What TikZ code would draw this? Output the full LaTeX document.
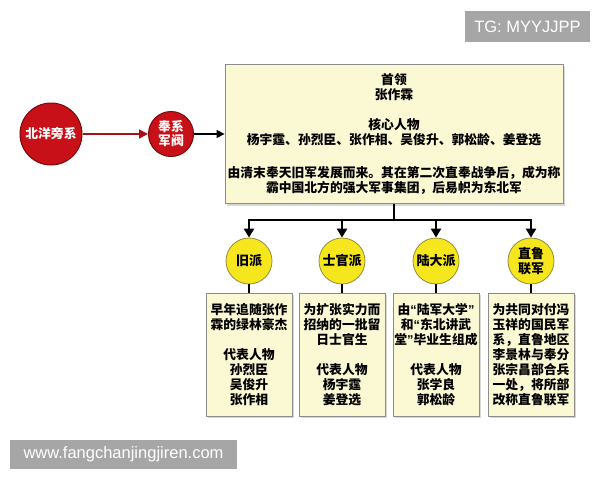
\documentclass[tikz,border=0pt]{standalone}
\usepackage{fontspec}
\usepackage{xcolor}
\setmainfont{Noto Sans CJK SC}
\newfontfamily\wmfont{Liberation Sans}
\usetikzlibrary{shapes, positioning, arrows.meta, shadows}

\definecolor{boxfill}{RGB}{251,249,212}
\definecolor{boxline}{RGB}{140,140,140}
\definecolor{sunyellow}{RGB}{245,230,30}
\definecolor{sunline}{RGB}{150,140,60}
\definecolor{fengred}{RGB}{200,16,24}
\definecolor{fengline}{RGB}{120,10,10}
\definecolor{wmgray}{RGB}{166,166,166}

\newcommand{\narrowq}[1]{{\wmfont\bfseries #1}}

\begin{document}
\begin{tikzpicture}[x=1pt, y=-1pt,
        redcirc/.style={circle, draw=fengline, line width=1pt, fill=fengred, text=white, inner sep=0pt, align=center, font=\fontsize{12.8}{14}\selectfont\bfseries},
        yelcirc/.style={circle, draw=sunline, line width=0.8pt, fill=sunyellow, minimum size=46pt, inner sep=0pt, align=center, font=\fontsize{13}{15}\selectfont\bfseries},
        infobox/.style={rectangle, draw=boxline, line width=0.8pt, fill=boxfill, inner sep=0pt, align=center, font=\fontsize{12.8}{15}\selectfont\bfseries, drop shadow={shadow xshift=2pt, shadow yshift=-2pt, fill=black!30}},
        treeline/.style={line width=2.5pt},
        treearrow/.style={line width=2.5pt, -{Triangle[length=9pt, width=10pt]}},
        redarrow/.style={draw=fengred!85!black, line width=1.5pt, -{Triangle[length=9pt, width=9pt]}},
        blackarrow/.style={line width=1.5pt, -{Triangle[length=8pt, width=8pt]}},
        watermark/.style={rectangle, fill=wmgray, text=white, inner sep=0pt, font=\wmfont\fontsize{16.5}{18}\selectfont}]
        \useasboundingbox (0, 0) rectangle (600, 480);

        \node[watermark, minimum width=125pt, minimum height=31pt] (tg) at (527.5, 26.5) {TG: MYYJJPP};
        \node[watermark, minimum width=227pt, minimum height=29pt] (site) at (123.5, 454.5) {www.fangchanjingjiren.com};

        \node[redcirc, minimum size=62pt] (beiyang) at (51, 134) {北洋旁系};
        \node[redcirc, minimum size=45pt] (fengxi) at (171, 134) {奉系\\军阀};

        \node[infobox, minimum width=338pt, minimum height=139pt] (main) at (394, 134) {首领\\张作霖\\[15pt]核心人物\\杨宇霆、孙烈臣、张作相、吴俊升、郭松龄、姜登选\\[18pt]由清末奉天旧军发展而来。其在第二次直奉战争后，成为称\\霸中国北方的强大军事集团，后易帜为东北军};

        \coordinate (bar) at (394, 220);

        \node[yelcirc] (old) at (249, 261) {旧派};
        \node[yelcirc] (shiguan) at (342, 261) {士官派};
        \node[yelcirc] (luda) at (436, 261) {陆大派};
        \node[yelcirc] (zhilu) at (531, 261) {直鲁\\联军};

        \node[infobox, minimum width=86pt, minimum height=123pt] (oldbox) at (249, 354.5) {早年追随张作\\霖的绿林豪杰\\[15pt]代表人物\\孙烈臣\\吴俊升\\张作相};
        \node[infobox, minimum width=86pt, minimum height=123pt] (shiguanbox) at (342, 354.5) {为扩张实力而\\招纳的一批留\\日士官生\\[15pt]代表人物\\杨宇霆\\姜登选};
        \node[infobox, minimum width=86pt, minimum height=123pt] (ludabox) at (436, 354.5) {由\narrowq{“}陆军大学\narrowq{”}\\和\narrowq{“}东北讲武\\堂\narrowq{”}毕业生组成\\[15pt]代表人物\\张学良\\郭松龄};
        \node[infobox, minimum width=86pt, minimum height=123pt] (zhilubox) at (531, 354.5) {为共同对付冯\\玉祥的国民军\\系，直鲁地区\\李景林与奉分\\张宗昌部合兵\\一处，将所部\\改称直鲁联军};

        \draw[redarrow] (beiyang) -- (fengxi);
        \draw[blackarrow] (fengxi) -- (main);

        \draw[treeline] (main.south) -- (bar);
        \draw[treearrow] (bar) -| (old);
        \draw[treearrow] (bar) -| (shiguan);
        \draw[treearrow] (bar) -| (luda);
        \draw[treearrow] (bar) -| (zhilu);

        \draw[treeline] (old) -- (oldbox)
            (shiguan) -- (shiguanbox)
            (luda) -- (ludabox)
            (zhilu) -- (zhilubox);
    \end{tikzpicture}
\end{document}
